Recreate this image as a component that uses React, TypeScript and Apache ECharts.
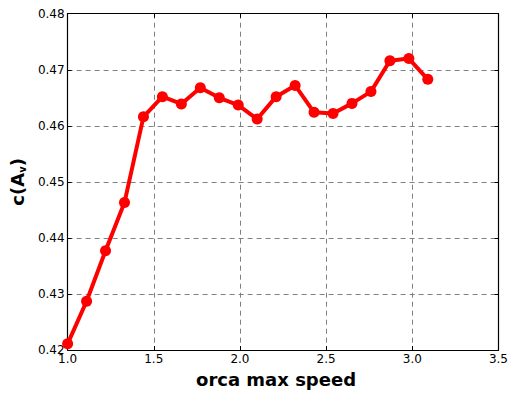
import React, { useEffect, useRef } from "react";
import * as echarts from "echarts";

const xValues = [1.0, 1.11, 1.22, 1.33, 1.44, 1.55, 1.66, 1.77, 1.88, 1.99, 2.1, 2.21, 2.32, 2.43, 2.54, 2.65, 2.76, 2.87, 2.98, 3.09];
const yValues = [0.4211, 0.4287, 0.4377, 0.4463, 0.4616, 0.4652, 0.4639, 0.4668, 0.465, 0.4637, 0.4612, 0.4652, 0.4672, 0.4624, 0.4622, 0.464, 0.4661, 0.4716, 0.472, 0.4683];
const xTicks = [1.0, 1.5, 2.0, 2.5, 3.0, 3.5];
const yTicks = [0.42, 0.43, 0.44, 0.45, 0.46, 0.47, 0.48];

const FONT = "DejaVu Sans";

export default function App() {
  const ref = useRef<HTMLDivElement>(null);
  useEffect(() => {
    if (!ref.current) return;
    const chart = echarts.init(ref.current, undefined, { renderer: "svg" });
    const splitLine = { show: true, lineStyle: { color: "#808080", type: [5, 4] as any, width: 1 } };
    const axisLine = { show: true, onZero: false, lineStyle: { color: "#000", width: 1.2 } };
    const axisTick = { show: true, inside: true, length: 4, lineStyle: { color: "#000", width: 1 } };
    chart.setOption({
      animation: false,
      backgroundColor: "#fff",
      grid: { left: 65, right: 10.5, top: 13.7, bottom: 44, containLabel: false },
      xAxis: [
        {
          type: "value",
          min: xTicks[0],
          max: xTicks[xTicks.length - 1],
          interval: 0.5,
          axisLine,
          axisTick,
          splitLine,
          axisLabel: { fontFamily: FONT, fontSize: 12, color: "#000", margin: 3, formatter: (v: number) => v.toFixed(1) },
          name: "orca max speed",
          nameLocation: "middle",
          nameGap: 20,
          nameTextStyle: { fontFamily: FONT, fontSize: 18, fontWeight: "bold", color: "#000", padding: [0, 14, 0, 0] },
        },
        {
          type: "value",
          position: "top",
          min: xTicks[0],
          max: xTicks[xTicks.length - 1],
          interval: 0.5,
          axisLine,
          axisTick,
          splitLine: { show: false },
          axisLabel: { show: false },
        },
      ],
      yAxis: [
        {
          type: "value",
          min: yTicks[0],
          max: yTicks[yTicks.length - 1],
          interval: 0.01,
          axisLine,
          axisTick,
          splitLine,
          axisLabel: { fontFamily: FONT, fontSize: 12, color: "#000", margin: 3, formatter: (v: number) => v.toFixed(2) },
          name: "c(A{sub|v})",
          nameLocation: "middle",
          nameGap: 34,
          nameRotate: 90,
          nameTextStyle: {
            fontFamily: FONT,
            fontSize: 18,
            fontWeight: "bold",
            color: "#000",
            rich: {
              sub: { fontFamily: FONT, fontSize: 10, fontWeight: "bold", color: "#000", verticalAlign: "bottom", padding: [10, 0, 0, 0] },
            },
          },
        },
        {
          type: "value",
          position: "right",
          min: yTicks[0],
          max: yTicks[yTicks.length - 1],
          interval: 0.01,
          axisLine,
          axisTick,
          splitLine: { show: false },
          axisLabel: { show: false },
        },
      ],
      series: [
        {
          type: "line",
          data: xValues.map((x, i) => [x, yValues[i]]),
          lineStyle: { color: "#ff0000", width: 4 },
          itemStyle: { color: "#ff0000" },
          symbol: "circle",
          symbolSize: 11,
          clip: false,
        },
      ],
    });
    return () => chart.dispose();
  }, []);
  return (
    <div
      ref={ref}
      style={{ position: "fixed", left: 0, top: 0, width: 511, height: 394, background: "#fff" }}
    />
  );
}
